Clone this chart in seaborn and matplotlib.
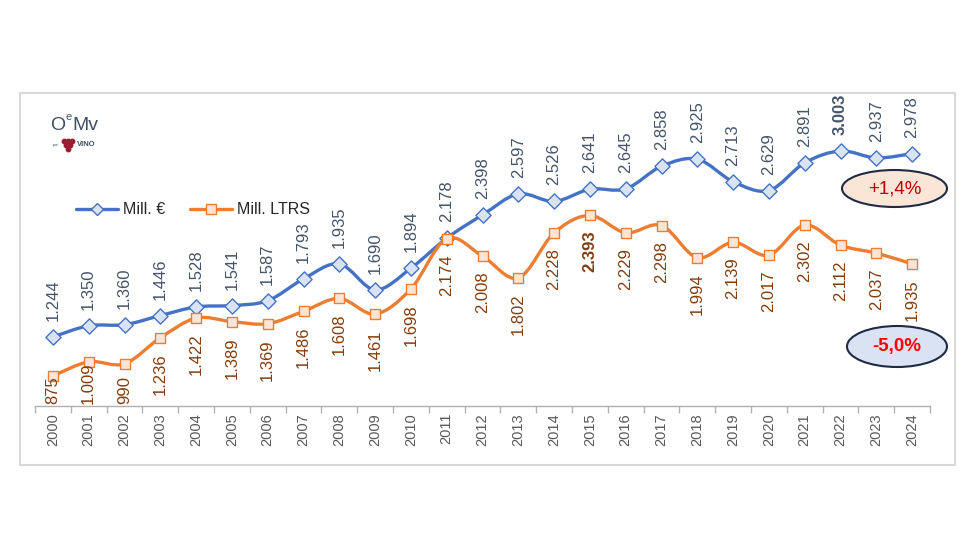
"""Wine exports: value (Mill. EUR) vs volume (Mill. litres), 2000-2024."""
import matplotlib
matplotlib.use("Agg")
import matplotlib.pyplot as plt
import numpy as np
import pandas as pd
import seaborn as sns
from matplotlib.lines import Line2D
from matplotlib.patches import Ellipse, PathPatch, Rectangle
from matplotlib.path import Path

years = list(range(2000, 2025))
eur = [1244, 1350, 1360, 1446, 1528, 1541, 1587, 1793, 1935, 1690, 1894, 2178, 2398,
       2597, 2526, 2641, 2645, 2858, 2925, 2713, 2629, 2891, 3003, 2937, 2978]
ltrs = [875, 1009, 990, 1236, 1422, 1389, 1369, 1486, 1608, 1461, 1698, 2174, 2008,
        1802, 2228, 2393, 2229, 2298, 1994, 2139, 2017, 2302, 2112, 2037, 1935]
bold_eur = [2022]
bold_ltrs = [2015]
series_names = ["Mill. €", "Mill. LTRS"]
badges = ["+1,4%", "-5,0%"]

BLUE = "#4472C4"
ORANGE = "#ED7D31"
BLUE_FILL = "#DAE3F3"
ORANGE_FILL = "#FBE5D6"
BLUE_TXT = "#44546A"
ORANGE_TXT = "#843C0C"

sns.set_theme(style="white")
plt.rcParams["font.family"] = ["Liberation Sans", "DejaVu Sans"]

W, H = 980, 560


def fx(px):
    return px / W


def fy(py):
    return (H - py) / H


def fmt(v):
    return f"{v:,}".replace(",", ".")


def smooth_path(xs, ys):
    # Catmull-Rom style Bezier, close to Excel's smoothed line
    pts = np.column_stack([xs, ys]).astype(float)
    n = len(pts)
    verts = [pts[0]]
    codes = [Path.MOVETO]
    for i in range(n - 1):
        p0 = pts[max(i - 1, 0)]
        p1 = pts[i]
        p2 = pts[i + 1]
        p3 = pts[min(i + 2, n - 1)]
        verts += [p1 + (p2 - p0) / 6, p2 - (p3 - p1) / 6, p2]
        codes += [Path.CURVE4] * 3
    return Path(verts, codes)


df = pd.DataFrame({"x": np.arange(len(years)), "year": years, "eur": eur, "ltrs": ltrs})

fig = plt.figure(figsize=(W / 100, H / 100), dpi=100)
fig.patches.append(Rectangle((fx(20), fy(465)), fx(955) - fx(20), fy(93) - fy(465),
                             transform=fig.transFigure, fill=False,
                             edgecolor="#D9D9D9", linewidth=1.5))

ax = fig.add_axes([fx(35), fy(406), fx(930) - fx(35), fy(100) - fy(406)])
ax.set_xlim(-0.5, len(years) - 0.5)
ax.set_ylim(591, 3485)

# blue series
ax.add_patch(PathPatch(smooth_path(df["x"], df["eur"]), fill=False,
                       edgecolor=BLUE, linewidth=2.4, zorder=2, capstyle="round"))
sns.scatterplot(data=df, x="x", y="eur", marker="D", s=60, color=BLUE_FILL,
                edgecolor=BLUE, linewidth=1.0, zorder=3, ax=ax)
# orange series on top
ax.add_patch(PathPatch(smooth_path(df["x"], df["ltrs"]), fill=False,
                       edgecolor=ORANGE, linewidth=2.4, zorder=4, capstyle="round"))
sns.scatterplot(data=df, x="x", y="ltrs", marker="s", s=62, color=ORANGE_FILL,
                edgecolor=ORANGE, linewidth=1.0, zorder=5, ax=ax)

for i, (yr, v) in enumerate(zip(years, eur)):
    ax.annotate(fmt(v), (i, v), xytext=(0, 11.5), textcoords="offset points",
                rotation=90, ha="center", va="bottom", fontsize=12, color=BLUE_TXT,
                fontweight="bold" if yr in bold_eur else "normal", zorder=6)

low_anns = []
for i, (yr, v) in enumerate(zip(years, ltrs)):
    a = ax.annotate(fmt(v), (i, v), xytext=(0, -11), textcoords="offset points",
                    rotation=90, ha="center", va="top", fontsize=12, color=ORANGE_TXT,
                    fontweight="bold" if yr in bold_ltrs else "normal", zorder=6)
    low_anns.append((i, a))

# keep labels inside the plot area (as Excel does)
fig.canvas.draw()
rend = fig.canvas.get_renderer()
axis_bottom = ax.transAxes.transform((0, 0))[1]
for i, a in low_anns:
    bb = a.get_window_extent(rend)
    if bb.y0 < axis_bottom + 2:
        a.xy = (i, ax.get_ylim()[0])
        a.xyann = (0, 1.5)
        a.set_verticalalignment("bottom")

ax.set_xticks(df["x"])
ax.set_xticklabels(years, rotation=90, fontsize=10.5, color="#595959")
ax.set_xticks(np.arange(-0.5, len(years)), minor=True)
ax.tick_params(axis="x", which="major", length=0, pad=5)
ax.tick_params(axis="x", which="minor", length=5, color="#B0B0B0", width=1, bottom=True)
ax.set_yticks([])
ax.set_xlabel("")
ax.set_ylabel("")
for side in ["left", "right", "top"]:
    ax.spines[side].set_visible(False)
ax.spines["bottom"].set_color("#B0B0B0")
ax.spines["bottom"].set_linewidth(1)

handles = [
    Line2D([], [], color=BLUE, lw=2.4, marker="D", ms=6, mfc=BLUE_FILL, mec=BLUE),
    Line2D([], [], color=ORANGE, lw=2.4, marker="s", ms=6.5, mfc=ORANGE_FILL, mec=ORANGE),
]
fig.legend(handles, series_names, loc="center", bbox_to_anchor=(fx(193), fy(210)),
           ncol=2, frameon=False, fontsize=11.5, handlelength=2.6,
           columnspacing=1.6, handletextpad=0.3)

# percentage badges
fig.patches.append(Ellipse((fx(894.5), fy(188.5)), fx(105), 37 / H, transform=fig.transFigure,
                           facecolor=ORANGE_FILL, edgecolor="#1F2A44", linewidth=1.5))
fig.text(fx(894.5), fy(188.5), badges[0], ha="center", va="center", fontsize=13.5,
         color="#C00000")
fig.patches.append(Ellipse((fx(897), fy(346.5)), fx(100), 41 / H, transform=fig.transFigure,
                           facecolor=BLUE_FILL, edgecolor="#1F2A44", linewidth=1.5))
fig.text(fx(897), fy(346.5), badges[1], ha="center", va="center", fontsize=13.5,
         color="#FF0000", fontweight="bold")

# small logo
logo = "#3E5064"
fig.text(fx(50), fy(126), "O", fontsize=14, color=logo, va="center", ha="left")
fig.text(fx(65), fy(117), "e", fontsize=8, color=logo, va="center", ha="left")
fig.text(fx(72), fy(126), "Mv", fontsize=14, color=logo, va="center", ha="left")
fig.text(fx(53), fy(145), "por", fontsize=3, color=logo, va="center", ha="left")
fig.text(fx(77), fy(145), "VINO", fontsize=5.5, color=logo, va="center", ha="left",
         fontweight="bold")
grape_x = [64, 68, 72, 66, 70, 68]
grape_y = [141, 141, 141, 145, 145, 149]
fig.add_artist(Line2D([fx(v) for v in grape_x], [fy(v) for v in grape_y],
                      transform=fig.transFigure, linestyle="none", marker="o",
                      ms=3.2, color="#9E1B32"))

fig.savefig("out.png", dpi=100)
plt.close(fig)
